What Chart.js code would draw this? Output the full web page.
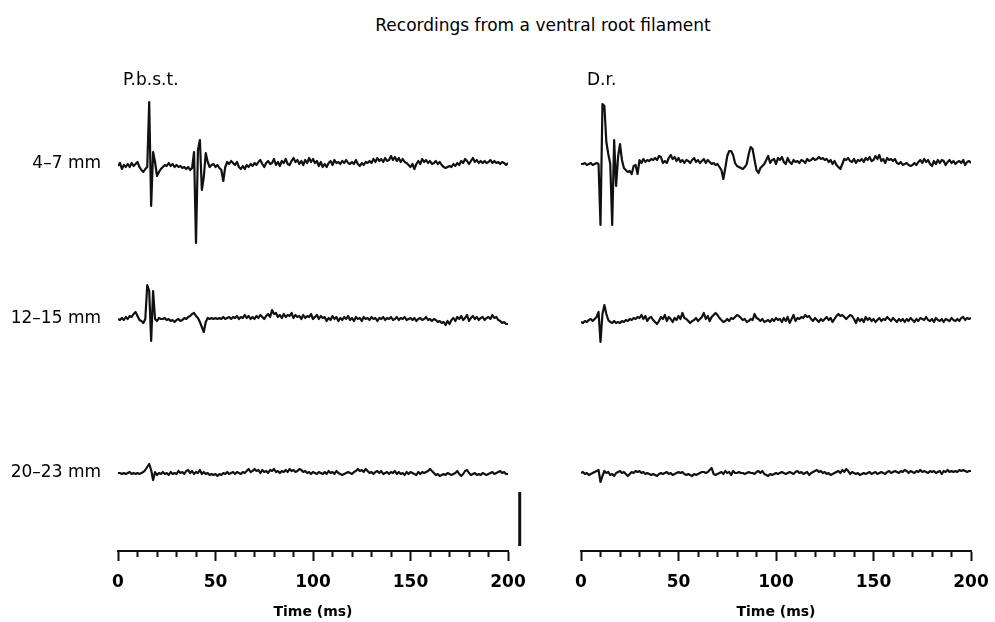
<!DOCTYPE html>
<html>
<head>
<meta charset="utf-8">
<script src="https://cdn.jsdelivr.net/npm/chart.js@4.4.1/dist/chart.umd.min.js"></script>
<style>
  html, body { margin: 0; padding: 0; background: #fff; width: 995px; height: 622px; overflow: hidden; }
  #mainTitle { position: absolute; left: 343px; top: 15px; width: 400px; text-align: center;
    font: 17px "DejaVu Sans", sans-serif; line-height: 20px; color: #000; white-space: nowrap; }
  .panel { position: absolute; top: 0; height: 622px; }
  #leftPanel { left: 0; width: 540px; }
  #rightPanel { left: 463px; width: 545px; }
</style>
</head>
<body>
<div id="mainTitle">Recordings from a ventral root filament</div>
<div class="panel" id="leftPanel"><canvas id="leftChart" width="540" height="622"></canvas></div>
<div class="panel" id="rightPanel"><canvas id="rightChart" width="545" height="622"></canvas></div>
<script>
// ---------------- DATA ----------------
const chartTitle = 'Recordings from a ventral root filament';
const panelNames = ['P.b.s.t.', 'D.r.'];
const rowLabels = ['4–7 mm', '12–15 mm', '20–23 mm'];
const timeTickLabels = [0, 50, 100, 150, 200];
const xAxisTitle = 'Time (ms)';
// sampling grid: one sample per millisecond, 0..200 ms
const timeMs = Array.from({ length: 201 }, (_, i) => i);

// Potentials (arbitrary units, positive = up)
const pbst_4_7 = [
  -2,1,-5,-1,-3,0,-3,1,-2,0,
  2,-3,-6,-8,-5,-3,62,-42,12,2,
  -12,-8,-5,-3,-1,-2,1,-2,0,-3,
  -1,-3,-2,-4,-3,-5,-3,-6,-4,12,
  -79,14,24,-26,-13,11,2,-3,-1,0,
  -3,-1,-4,-6,-17,-3,2,0,3,1,
  -1,2,-3,-5,-2,-5,-1,-3,0,-2,
  1,-1,2,4,0,-3,1,3,0,1,
  5,-1,2,-2,3,1,5,0,-1,3,
  6,2,4,0,3,-1,4,1,6,2,
  5,1,3,-2,2,-3,0,-3,1,3,
  -1,4,1,2,0,3,1,4,1,0,
  2,0,4,0,-2,1,-1,2,1,3,
  1,5,2,6,3,5,2,6,3,4,
  8,4,7,3,6,2,5,2,1,-1,
  -3,0,-5,0,3,0,5,2,4,1,
  3,0,1,3,0,2,-1,-3,-4,-3,
  -2,-3,0,-2,1,-1,3,1,5,3,
  0,3,6,2,4,1,3,1,3,1,
  2,4,1,3,1,2,0,2,1,-1,1
];
const pbst_12_15 = [
  0,-1,1,-1,2,0,3,2,5,7,
  3,-1,-2,-4,0,34,28,-22,28,0,
  -2,1,0,0,1,-1,0,-2,-1,-3,
  -1,0,-2,-1,1,0,2,3,5,6,
  3,1,-3,-8,-13,-3,1,0,1,0,
  1,0,1,0,2,0,1,2,0,2,
  1,3,0,2,1,4,1,3,0,2,
  0,3,1,4,2,0,3,5,2,9,
  5,6,2,4,1,5,2,4,3,6,
  1,4,2,3,0,4,1,3,2,5,
  0,2,4,0,3,1,2,-2,1,-1,
  3,0,2,-2,1,-1,2,0,3,-1,
  1,-2,2,0,1,-2,2,0,1,-1,
  2,0,1,-2,1,0,2,-1,1,0,
  2,-1,0,2,-1,1,0,2,-1,0,
  1,-1,1,-2,0,1,-1,0,2,-1,
  0,-2,0,-1,-3,-2,-4,-3,-6,-2,
  -5,-1,1,-2,2,0,3,-1,1,4,
  -2,1,3,0,2,-1,1,2,-1,1,
  2,0,4,1,2,-1,-2,-4,-3,-5,-5
];
const pbst_20_23 = [
  0,0,-1,0,-1,0,1,-1,0,-1,
  0,-1,0,1,3,6,9,3,-7,1,
  -2,0,-1,1,-1,0,-2,1,-1,0,
  -1,2,0,1,-1,2,3,0,2,-1,
  1,0,3,-1,1,-1,0,-2,-1,-2,
  -1,-3,-1,-2,0,-1,1,-1,0,1,
  -1,1,0,-1,1,0,2,4,1,2,
  4,2,3,0,3,1,2,0,3,2,
  4,1,2,0,2,1,3,1,4,2,
  3,1,2,4,3,1,2,0,1,-1,
  1,0,-1,1,0,-1,1,-1,2,0,
  1,-1,2,0,-1,-2,-1,0,1,0,
  -1,1,2,4,2,3,1,4,2,0,
  1,-1,1,2,0,2,-1,0,1,-1,
  1,0,2,-1,1,-1,0,-2,1,-1,
  1,0,-1,-2,1,-1,1,0,1,2,
  4,2,0,-2,-1,-3,-2,-1,-2,0,
  -1,-2,-1,0,2,-1,-3,-1,2,3,
  0,-2,-1,0,-2,-1,-2,0,-1,-2,
  -1,0,1,-1,0,1,2,0,1,-1,-1
];
const dr_4_7 = [
  -2,-2,-1,-3,-2,-1,-3,-2,-1,-2,
  -63,58,56,20,8,-2,-63,22,-24,5,
  18,2,-6,-8,-10,-9,-12,-4,-3,-12,
  2,-1,3,0,2,1,3,2,4,2,
  6,5,-1,1,-1,4,7,3,5,1,
  4,0,2,-1,2,1,-1,2,4,0,
  2,-1,1,3,-1,2,0,-2,-1,-3,
  -2,-5,-8,-17,-6,6,11,11,7,-1,
  -4,-5,-6,-7,-5,-2,8,15,13,2,
  -8,-11,-6,-4,-2,2,6,-1,2,3,
  -2,4,2,5,0,-2,4,0,-2,2,
  0,1,-1,2,1,-1,3,1,2,4,
  2,3,5,3,4,2,3,0,2,-2,
  1,-3,-5,-7,-2,3,2,4,1,0,
  3,-1,2,1,3,0,4,2,5,1,
  2,6,3,7,1,3,-1,4,2,3,
  1,3,-1,-2,0,-3,-2,-1,-3,-4,
  -3,-1,-3,0,2,-1,3,0,2,-2,
  -4,1,-2,2,-1,2,1,-3,0,2,
  -1,1,-2,0,1,-1,2,-3,0,1,-1
];
const dr_12_15 = [
  -2,-3,-1,-2,0,1,-1,1,3,8,
  -22,6,15,6,0,-2,-3,-1,-3,-2,
  -3,-1,-2,0,-1,1,0,2,1,3,
  2,5,1,4,-1,2,3,0,-2,-4,
  -1,3,1,5,-1,3,1,-2,2,0,
  4,1,7,2,1,-1,-3,-1,0,2,
  -1,1,3,7,1,4,-1,3,5,7,
  5,2,0,-2,-1,1,-1,2,1,3,
  5,4,2,0,1,-2,-1,1,0,6,
  2,1,-1,1,-2,-1,0,-2,1,-1,
  2,0,1,-2,2,-1,3,-3,1,5,
  -1,2,1,3,2,5,3,4,1,-1,
  2,0,-2,1,-1,1,3,0,2,-2,
  1,4,6,4,5,3,1,3,5,4,
  1,-3,2,-1,1,-2,3,0,2,-1,
  1,-2,0,2,-1,1,0,3,1,-1,
  2,0,-2,1,-1,1,-2,1,-1,2,
  0,-2,1,-1,2,1,0,3,0,-1,
  1,-2,2,0,-1,1,-2,1,0,-1,
  2,0,-1,1,-1,2,3,0,2,1,2
];
const dr_20_23 = [
  0,1,-1,0,-2,-1,0,1,2,3,
  -9,-3,2,0,1,-2,-1,-3,0,1,
  2,0,1,-1,-3,-1,1,0,2,1,
  2,0,1,-1,0,-1,-2,-1,-2,-3,
  -1,0,-1,0,1,-1,0,-2,-1,0,
  1,0,1,-1,-2,-1,-2,-3,-1,-2,
  -1,0,1,1,0,1,3,5,-1,-2,
  -1,0,1,-1,2,0,1,-2,2,0,
  0,1,0,0,-1,0,1,0,0,-1,
  1,2,0,2,-1,-2,-3,-1,-2,-1,
  0,-1,0,1,0,-1,0,1,0,-1,
  1,2,0,1,-1,0,1,-2,0,1,
  2,3,1,2,0,1,-1,0,-2,-1,
  0,1,2,0,3,1,4,2,-1,1,
  0,-1,0,-2,-1,0,-1,0,1,-1,
  0,1,-1,0,1,0,-1,1,2,0,
  1,2,1,0,2,1,3,2,0,2,
  1,0,2,1,3,1,2,1,0,2,
  1,2,0,1,2,-1,2,1,3,1,
  2,1,2,1,3,2,3,2,1,2,2
];
// calibration bar (drawn just past the end of the P.b.s.t. time axis)
const calibrationBarTime = [206, 206];
const calibrationBarValue = [5, 59];

// ---------------- LAYOUT / STYLE ----------------
const FONT = '"DejaVu Sans", sans-serif';
const INK = '#111';
const Y_MAX = 500;
const leftRowOffsets = [387, 232, 78];
const rightRowOffsets = [389, 231, 78];

const headingPlugin = {
  id: 'panelHeading',
  afterDraw(chart, args, opts) {
    if (!opts || !opts.text) return;
    const { ctx, chartArea } = chart;
    ctx.save();
    ctx.font = '17px ' + FONT;
    ctx.fillStyle = '#000';
    ctx.textAlign = 'left';
    ctx.textBaseline = 'middle';
    ctx.fillText(opts.text, chartArea.left + opts.dx, opts.y);
    ctx.restore();
  }
};

function traceDataset(values, offset) {
  return {
    data: timeMs.map((t, i) => ({ x: t, y: offset + values[i] })),
    borderColor: INK,
    borderWidth: 2.2,
    borderJoinStyle: 'round',
    pointRadius: 0,
    tension: 0,
    fill: false
  };
}

function xScale() {
  return {
    type: 'linear',
    position: 'bottom',
    min: 0,
    max: 200,
    afterBuildTicks: (s) => {
      const t = [];
      for (let v = 0; v <= 200; v += 10) t.push({ value: v });
      s.ticks = t;
    },
    afterFit: (s) => { s.height = 71; },
    ticks: {
      autoSkip: false,
      maxRotation: 0,
      padding: 11,
      color: '#000',
      font: { family: FONT, size: 17, weight: 'bold' },
      callback: (v) => timeTickLabels.includes(v) ? String(v) : ''
    },
    grid: {
      display: true,
      drawOnChartArea: false,
      drawTicks: true,
      tickLength: 10,
      tickWidth: 2,
      tickColor: INK,
      tickBorderDash: (ctx) => (ctx.tick && timeTickLabels.includes(ctx.tick.value)) ? [] : [5, 50]
    },
    border: { display: true, color: INK, width: 2 },
    title: {
      display: true,
      text: xAxisTitle,
      color: '#000',
      font: { family: FONT, size: 14, weight: 'bold' },
      padding: { top: 0, bottom: 1 }
    }
  };
}

function makePanel(canvasId, traces, offsets, heading, headingDx, showRowLabels, padRight, extra) {
  const datasets = traces.map((vals, i) => traceDataset(vals, offsets[i]));
  if (extra) datasets.push(extra);
  return new Chart(document.getElementById(canvasId), {
    type: 'line',
    data: { datasets },
    plugins: [headingPlugin],
    options: {
      responsive: false,
      animation: false,
      events: [],
      devicePixelRatio: 1,
      layout: { padding: { top: 51, bottom: 0, left: 0, right: padRight } },
      plugins: {
        legend: { display: false },
        tooltip: { enabled: false },
        title: { display: false },
        panelHeading: { text: heading, dx: headingDx, y: 81 }
      },
      scales: {
        x: xScale(),
        y: {
          type: 'linear',
          min: 0,
          max: Y_MAX,
          afterBuildTicks: (s) => { s.ticks = offsets.map(v => ({ value: v })); },
          afterFit: (s) => { s.width = 118; },
          ticks: {
            display: showRowLabels,
            autoSkip: false,
            padding: 17,
            color: '#000',
            font: { family: FONT, size: 17 },
            callback: (v, i) => rowLabels[i]
          },
          grid: { display: false, drawTicks: false },
          border: { display: false }
        }
      }
    }
  });
}

makePanel('leftChart', [pbst_4_7, pbst_12_15, pbst_20_23], leftRowOffsets,
  panelNames[0], 5, true, 32,
  {
    data: calibrationBarTime.map((t, i) => ({ x: t, y: calibrationBarValue[i] })),
    borderColor: INK, borderWidth: 3, pointRadius: 0, clip: false, fill: false
  });

makePanel('rightChart', [dr_4_7, dr_12_15, dr_20_23], rightRowOffsets,
  panelNames[1], 6, false, 37, null);
</script>
</body>
</html>
